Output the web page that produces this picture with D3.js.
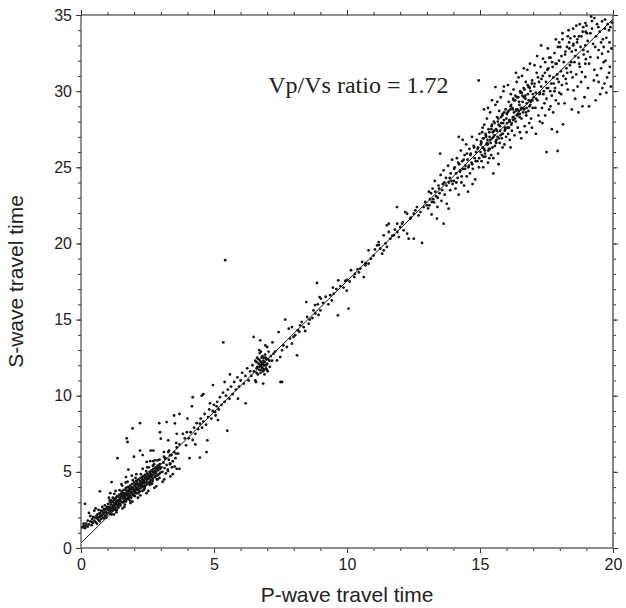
<!DOCTYPE html>
<html>
<head>
<meta charset="utf-8">
<script src="https://cdn.jsdelivr.net/npm/d3@7/dist/d3.min.js"></script>
<style>
  body { margin: 0; background: #fff; }
  svg text { font-family: "Liberation Sans", Arial, sans-serif; fill: #222; }
</style>
</head>
<body>
<div id="chart"></div>
<script>
// tick values
var xMajor = [0, 5, 10, 15, 20];
var yMajor = [0, 5, 10, 15, 20, 25, 30, 35];
var xMinor = d3.range(0, 21, 1);
var yMinor = d3.range(0, 36, 1);

// fitted line: S = intercept + ratio * P
var vpvs = 1.72;
var intercept = 0.33;
var ratioLabel = "Vp/Vs ratio = 1.72";

// [P-wave travel time, S-wave travel time]
var travelTimes = [
  // near-source, p < 1
  [0.05,1.35],[0.1,1.45],[0.15,1.3],[0.2,1.6],[0.25,1.4],[0.3,1.55],[0.35,1.75],[0.4,1.5],[0.42,1.9],[0.45,1.65],
  [0.5,1.8],[0.52,2.0],[0.55,1.7],[0.6,1.95],[0.62,2.2],[0.65,1.85],[0.7,2.05],[0.72,2.3],[0.75,1.9],[0.78,2.15],
  [0.8,2.4],[0.82,2.0],[0.85,2.25],[0.88,2.5],[0.9,2.1],[0.92,2.35],[0.95,2.6],[0.97,2.2],[0.3,2.3],[0.5,2.45],
  [0.6,1.6],[0.7,1.75],[0.85,1.95],[0.95,2.0],[0.15,2.9],[0.55,2.6],[0.35,2.1],[0.8,2.7],[0.25,1.8],[0.45,2.05],
  [0.58,2.1],[0.64,2.0],[0.68,2.25],[0.74,2.1],[0.76,2.45],[0.84,2.3],[0.86,2.55],[0.94,2.35],[0.98,2.7],[0.66,2.5],
  [0.9,2.8],[0.4,1.7],[0.2,1.45],[0.1,1.6],
  // dense band 1 - 3.7
  [1.0,2.5],[1.02,2.9],[1.04,2.3],[1.06,2.7],[1.08,3.1],[1.1,2.55],[1.12,2.85],[1.14,2.4],[1.16,3.0],[1.18,2.7],
  [1.2,3.3],[1.22,2.6],[1.24,2.95],[1.26,2.75],[1.28,3.2],[1.3,2.65],[1.32,3.05],[1.34,2.85],[1.36,3.4],[1.38,2.8],
  [1.4,3.15],[1.42,2.95],[1.44,3.5],[1.46,2.9],[1.48,3.25],[1.5,3.05],[1.05,3.3],[1.15,2.2],[1.25,3.55],[1.35,2.5],
  [1.45,3.8],[1.12,3.15],
  [1.03,2.65],[1.07,2.45],[1.11,3.0],[1.13,2.65],[1.17,2.55],[1.19,3.05],[1.21,2.8],[1.23,3.15],[1.27,2.9],[1.29,2.5],
  [1.31,3.3],[1.33,2.95],[1.37,3.1],[1.39,2.7],[1.41,3.35],[1.43,3.05],[1.47,3.15],[1.49,2.8],
  [1.52,3.4],[1.54,3.0],[1.56,3.6],[1.58,3.25],[1.6,3.8],[1.62,3.1],[1.64,3.5],[1.66,3.35],[1.68,3.9],[1.7,3.2],
  [1.72,3.65],[1.74,3.45],[1.76,4.0],[1.78,3.3],[1.8,3.75],[1.82,3.55],[1.84,4.1],[1.86,3.4],[1.88,3.85],[1.9,3.65],
  [1.92,4.2],[1.94,3.5],[1.96,3.95],[1.98,3.75],[1.55,4.1],[1.65,2.85],[1.75,4.35],[1.85,3.1],[1.95,4.45],[1.6,3.45],
  [1.7,3.95],[1.8,3.35],[1.9,4.0],[1.53,3.7],[1.83,3.85],
  [1.51,3.55],[1.57,3.4],[1.59,3.0],[1.61,3.6],[1.63,3.3],[1.67,3.55],[1.69,3.15],[1.71,3.8],[1.73,3.5],[1.77,3.6],
  [1.79,3.2],[1.81,3.95],[1.87,3.7],[1.89,3.3],[1.91,3.9],[1.93,3.6],[1.97,3.85],[1.99,3.45],
  [2.0,4.3],[2.02,3.7],[2.04,4.05],[2.06,3.85],[2.08,4.4],[2.1,3.8],[2.12,4.15],[2.14,3.95],[2.16,4.5],[2.18,3.85],
  [2.2,4.25],[2.22,4.05],[2.24,4.6],[2.26,3.95],[2.28,4.35],[2.3,4.15],[2.32,4.7],[2.34,4.05],[2.36,4.45],[2.38,4.25],
  [2.4,4.8],[2.42,4.1],[2.44,4.55],[2.46,4.35],[2.48,4.9],[2.05,4.6],[2.15,3.6],[2.25,4.85],[2.35,3.8],[2.45,5.05],
  [2.1,4.4],[2.2,3.7],[2.3,4.5],[2.4,4.0],[2.03,4.2],[2.27,4.25],[2.43,4.7],
  [2.01,4.1],[2.07,3.95],[2.09,3.6],[2.11,4.25],[2.13,3.9],[2.17,4.1],[2.19,3.75],[2.21,4.4],[2.23,4.15],[2.29,4.05],
  [2.31,4.6],[2.33,4.3],[2.37,4.35],[2.39,3.95],[2.41,4.6],[2.47,4.5],[2.49,4.2],
  [2.5,4.5],[2.52,4.85],[2.55,4.3],[2.58,5.0],[2.6,4.7],[2.62,4.45],[2.65,5.1],[2.68,4.8],[2.7,4.55],[2.72,5.2],
  [2.75,4.9],[2.78,4.65],[2.8,5.3],[2.83,5.0],[2.86,4.75],[2.88,5.4],[2.9,5.1],[2.93,4.85],[2.96,5.5],[2.98,5.2],
  [2.55,5.3],[2.65,4.2],[2.75,5.5],[2.85,4.5],[2.95,5.8],[2.6,5.0],[2.8,4.9],[2.7,5.4],
  [2.51,4.75],[2.53,4.55],[2.57,4.6],[2.59,4.3],[2.61,4.9],[2.63,4.65],[2.67,4.7],[2.69,4.4],[2.71,5.0],[2.77,5.05],
  [2.79,4.75],[2.81,5.2],[2.87,5.2],[2.89,4.8],[2.91,5.35],[2.97,5.3],[2.99,4.95],
  [3.02,5.3],[3.06,5.0],[3.1,5.6],[3.14,5.25],[3.18,5.9],[3.22,5.45],[3.26,5.15],[3.3,5.8],[3.35,5.5],[3.4,6.1],
  [3.45,5.7],[3.5,6.3],[3.55,5.9],[3.6,6.6],[3.65,6.2],[3.7,6.8],[3.12,6.0],[3.28,6.3],[3.42,5.3],[3.58,6.9],
  // lower and upper edges of the band
  [1.1,2.25],[1.24,2.2],[1.41,2.65],[1.56,2.6],[1.69,3.05],[1.86,2.95],[2.02,3.4],[2.14,3.3],[2.31,3.75],[2.46,3.6],
  [2.58,4.15],[2.76,3.95],[2.88,4.5],[3.07,4.35],[3.19,4.9],[3.36,4.7],[3.52,5.35],
  [1.18,2.45],[1.33,2.35],[1.47,2.8],[1.63,2.7],[1.77,3.2],[1.93,3.05],[2.05,3.6],[2.23,3.45],[2.39,3.9],[2.53,3.75],
  [2.67,4.25],[2.83,4.05],[2.95,4.6],[3.13,4.5],[3.27,5.05],[3.45,4.85],
  [1.1,3.6],[1.3,3.75],[1.52,4.2],[1.68,4.3],[1.91,4.75],[2.08,4.85],[2.32,5.2],[2.49,5.3],[2.71,5.7],[2.88,5.75],
  [3.12,6.3],[3.31,6.4],
  // scatter above the band
  [2.22,8.2],[1.94,7.85],[1.72,7.2],[1.75,6.96],[1.37,5.9],[1.15,4.33],[2.94,8.2],[3.22,8.27],[3.5,8.7],[3.7,8.8],
  [3.53,8.18],[4.0,8.5],[4.17,9.3],[4.54,10.0],[4.85,9.5],[4.96,10.7],[5.4,10.9],[7.5,10.9],[6.19,9.5],[5.5,7.7],
  [4.47,5.94],[4.75,7.07],[4.72,6.3],[4.08,5.9],[3.7,5.2],[2.97,7.6],[3.0,7.18],[3.28,7.07],[3.6,7.5],[3.83,7.5],
  [3.98,7.6],[3.9,7.2],[2.62,6.4],[2.72,6.4],[2.22,6.4],[2.32,6.1],[1.99,6.0],[1.78,5.15],[1.69,4.66],[0.71,3.72],
  [2.47,5.65],[2.6,5.7],[2.78,5.76],[2.91,5.21],[3.16,5.87],[3.35,6.09],[3.57,6.2],[3.6,5.2],[3.35,5.56],[3.95,6.74],
  [4.47,8.17],[5.04,8.93],[5.1,9.3],
  // 4 - 6.5
  [4.05,7.2],[4.12,7.6],[4.2,7.1],[4.25,7.9],[4.3,7.5],[4.35,8.2],[4.4,7.8],[4.5,8.5],[4.55,7.9],[4.6,8.3],
  [4.65,8.8],[4.7,8.1],[4.78,8.6],[4.82,9.1],[4.9,8.5],[4.95,9.0],[5.0,9.4],[5.06,8.7],[5.12,9.6],[5.18,9.1],
  [5.22,9.9],[5.28,9.4],[5.34,10.2],[5.4,9.6],[5.45,10.0],[5.52,10.4],[5.58,9.8],[5.64,10.6],[5.7,10.1],[5.76,10.9],
  [5.82,10.4],[5.88,11.2],[5.94,10.6],[6.0,11.0],[6.06,11.5],[6.12,10.8],[6.18,11.3],[6.25,11.8],[6.3,11.0],[6.36,11.6],
  [5.35,13.5],[5.42,18.9],[4.2,9.9],[4.6,10.1],[4.3,6.8],[5.15,8.4],[5.6,11.4],[5.9,9.8],
  // cluster near 7
  [6.4,11.3],[6.45,12.0],[6.49,13.86],[6.5,11.6],[6.55,12.3],[6.58,10.9],[6.6,11.8],[6.62,12.5],[6.65,11.4],[6.68,12.1],
  [6.7,11.7],[6.72,12.8],[6.74,13.64],[6.75,11.5],[6.78,12.2],[6.8,11.9],[6.82,12.6],[6.84,11.6],[6.86,12.3],[6.88,12.0],
  [6.9,11.4],[6.92,12.7],[6.93,13.3],[6.95,11.8],[6.97,12.4],[7.0,12.1],[7.02,11.6],[7.05,12.9],[7.08,12.3],[7.1,11.9],
  [7.14,12.6],[7.18,12.3],[7.24,12.76],[7.37,12.32],[7.49,12.54],[7.56,12.98],[7.56,10.9],[7.61,13.3],[7.74,13.2],[7.43,14.18],
  [7.68,15.0],[7.81,14.4],[7.93,14.51],[7.99,13.86],[8.05,13.97],[7.86,13.75],[7.93,13.42],[8.12,12.65],[6.55,11.0],[6.7,13.0],
  [6.85,10.8],[7.0,13.2],[6.6,12.2],[6.9,12.2],[6.75,12.0],[7.2,13.5],[7.3,12.9],
  [6.63,11.9],[6.67,12.4],[6.71,11.9],[6.73,12.3],[6.77,11.7],[6.79,12.5],[6.81,12.1],[6.83,11.8],[6.87,12.5],[6.89,11.7],
  [6.91,12.0],[6.94,12.5],[6.96,12.0],[6.99,11.7],[7.03,12.4],[6.6,11.5],[6.76,12.9],
  // 8 - 13
  [8.24,14.62],[8.3,14.84],[8.37,14.5],[8.21,14.2],[8.43,14.25],[8.56,14.73],[8.5,15.17],[8.74,15.6],[8.7,15.1],[8.81,15.4],
  [8.93,15.3],[9.0,15.6],[8.47,16.15],[8.8,15.95],[8.87,17.4],[8.97,16.48],[9.02,16.37],[9.3,16.0],[9.43,16.26],[9.37,16.6],
  [9.47,17.1],[9.66,15.28],[9.67,17.58],[9.87,17.1],[9.93,17.54],[10.06,15.72],[9.99,16.9],[10.15,18.24],[10.27,17.8],[10.4,18.3],
  [10.5,18.34],[10.63,17.79],[10.57,18.78],[10.69,18.56],[10.81,18.67],[10.81,19.55],[11.13,19.87],[11.19,20.09],[11.25,19.65],[11.32,19.33],
  [11.38,19.55],[11.5,19.77],[11.38,20.53],[11.57,20.75],[11.63,20.31],[11.5,21.19],[11.57,21.3],[11.76,20.53],[11.89,20.75],[11.95,20.42],
  [12.0,21.08],[12.07,21.3],[12.13,20.86],[12.26,20.64],[12.32,20.31],[12.51,20.31],[12.82,20.03],[11.89,21.3],[11.88,22.39],[12.19,22.06],
  [12.26,21.95],[12.38,21.63],[12.51,21.95],[12.57,22.17],[12.63,22.39],[12.69,21.84],[12.76,22.06],[12.88,22.39],[12.94,22.72],[13.0,22.5],
  [13.19,22.72],[13.38,21.63],[13.63,21.3],[13.82,22.28],
  [8.15,14.3],[8.6,15.0],[8.9,16.0],[9.1,16.1],[9.2,16.5],[9.5,16.7],[9.6,17.0],[9.75,17.2],[10.0,17.6],[10.1,17.5],
  [10.3,18.0],[10.45,18.1],[10.7,18.7],[10.9,19.0],[11.0,19.2],[11.05,19.6],[11.2,19.9],[11.45,20.0],[11.7,20.5],[11.8,20.9],
  [12.1,21.4],[12.4,21.7],
  // 13 - 15
  [13.05,22.3],[13.08,23.4],[13.12,22.9],[13.18,21.9],[13.22,23.6],[13.27,22.7],[13.3,24.1],[13.35,23.1],[13.4,22.4],[13.44,23.8],
  [13.48,23.3],[13.52,24.5],[13.55,22.8],[13.6,23.9],[13.63,24.8],[13.67,23.2],[13.72,24.3],[13.75,22.6],[13.8,25.1],[13.83,24.0],
  [13.88,23.5],[13.9,24.6],[13.95,25.5],[13.97,23.9],[13.5,25.9],
  [13.1,22.5],[13.16,23.3],[13.24,22.9],[13.32,23.4],[13.41,23.0],[13.46,23.6],[13.58,23.5],[13.66,24.0],[13.74,23.8],[13.86,24.3],
  [13.93,24.1],
  [14.02,24.1],[14.05,25.0],[14.08,23.6],[14.1,24.6],[14.13,25.6],[14.16,24.3],[14.2,23.2],[14.22,25.2],[14.25,24.7],[14.28,26.1],
  [14.3,24.0],[14.33,25.4],[14.36,24.9],[14.4,23.8],[14.42,25.8],[14.45,25.1],[14.48,26.5],[14.5,24.4],[14.53,25.5],[14.56,25.0],
  [14.6,26.2],[14.62,24.6],[14.65,25.9],[14.68,25.3],[14.7,27.0],[14.73,24.9],[14.76,26.4],[14.8,25.6],[14.82,24.2],[14.85,26.0],
  [14.88,26.8],[14.9,25.4],[14.93,26.3],[14.96,25.0],[14.98,27.2],[14.2,27.0],[14.55,23.4],[14.35,26.8],[14.72,23.9],[14.95,30.7],
  [14.03,24.9],[14.11,24.0],[14.18,25.3],[14.26,24.8],[14.31,24.4],[14.39,25.5],[14.44,24.9],[14.51,25.9],[14.58,25.1],[14.64,25.8],
  [14.71,25.2],[14.78,26.3],[14.84,25.4],[14.91,26.2],[14.97,25.6],
  // 15 - 17
  [15.02,26.0],[15.04,26.7],[15.06,25.4],[15.08,27.3],[15.1,26.3],[15.12,25.0],[15.14,26.9],[15.16,27.8],[15.18,26.1],[15.2,25.7],
  [15.22,27.1],[15.24,26.5],[15.26,28.2],[15.28,26.8],[15.3,25.3],[15.32,27.5],[15.34,26.2],[15.36,27.0],[15.38,28.6],[15.4,26.6],
  [15.42,25.8],[15.44,27.7],[15.46,26.9],[15.48,27.3],[15.5,25.6],[15.52,28.0],[15.54,27.1],[15.56,26.4],[15.58,29.1],[15.6,27.5],
  [15.62,26.8],[15.64,28.3],[15.66,27.0],[15.68,25.9],[15.7,27.8],[15.72,28.7],[15.74,26.6],[15.76,27.4],[15.78,29.6],[15.8,27.9],
  [15.82,26.9],[15.84,28.4],[15.86,27.2],[15.88,30.0],[15.9,28.1],[15.92,26.5],[15.94,27.6],[15.96,28.8],[15.98,27.0],[15.1,27.6],
  [15.3,28.9],[15.5,24.6],[15.7,25.2],[15.9,30.3],[15.58,30.27],[15.45,29.4],[15.15,28.8],[15.65,29.3],[15.35,25.6],[15.85,26.3],
  [15.03,26.5],[15.07,25.8],[15.11,26.9],[15.15,26.2],[15.19,25.9],[15.23,27.0],[15.27,26.6],[15.31,26.1],[15.35,27.3],[15.39,26.8],
  [15.43,27.5],[15.47,26.3],[15.51,27.0],[15.55,27.9],[15.59,26.7],[15.63,27.4],[15.67,28.0],[15.71,26.9],[15.75,27.7],[15.79,28.3],
  [15.83,27.2],[15.87,27.9],[15.91,28.6],[15.95,27.5],[15.99,28.2],
  [15.05,26.6],[15.13,25.7],[15.21,27.2],[15.29,26.5],[15.37,26.2],[15.45,27.8],[15.53,27.4],[15.61,26.6],[15.69,28.2],[15.77,27.1],
  [15.85,28.5],[15.93,27.4],
  [16.02,27.9],[16.04,28.6],[16.06,27.2],[16.08,29.3],[16.1,28.1],[16.12,26.8],[16.14,28.8],[16.16,29.8],[16.18,27.8],[16.2,27.4],
  [16.22,28.9],[16.24,28.3],[16.26,30.1],[16.28,28.6],[16.3,27.1],[16.32,29.4],[16.34,28.0],[16.36,28.8],[16.38,30.6],[16.4,28.4],
  [16.42,27.6],[16.44,29.6],[16.46,28.7],[16.48,29.1],[16.5,27.3],[16.52,29.9],[16.54,28.9],[16.56,28.2],[16.58,31.0],[16.6,29.3],
  [16.62,28.6],[16.64,30.2],[16.66,28.8],[16.68,27.7],[16.7,29.7],[16.72,30.6],[16.74,28.4],[16.76,29.2],[16.78,31.4],[16.8,29.8],
  [16.82,28.7],[16.84,30.3],[16.86,29.0],[16.88,31.8],[16.9,30.0],[16.92,28.2],[16.94,29.4],[16.96,30.7],[16.98,28.9],[16.15,26.3],
  [16.35,31.2],[16.55,26.9],[16.75,27.3],[16.95,27.6],[16.45,30.9],[16.25,29.5],[16.65,31.5],[16.85,27.9],[16.05,30.4],[16.5,28.5],
  [16.03,27.6],[16.07,28.7],[16.11,28.0],[16.15,29.0],[16.19,27.9],[16.23,28.8],[16.27,29.4],[16.31,28.2],[16.35,28.7],[16.39,29.6],
  [16.43,28.5],[16.47,29.3],[16.51,30.0],[16.55,28.8],[16.59,29.7],[16.63,28.9],[16.67,30.1],[16.71,29.5],[16.75,28.9],[16.79,30.4],
  [16.83,29.4],[16.87,30.2],[16.91,29.3],[16.95,30.5],[16.99,29.8],
  [16.01,28.5],[16.09,27.6],[16.17,29.1],[16.25,28.1],[16.33,29.7],[16.41,28.8],[16.49,28.3],[16.57,29.9],[16.65,29.6],[16.73,28.6],
  [16.81,30.3],[16.89,29.1],[16.97,29.4],
  // 17 - 20
  [17.02,29.6],[17.05,30.5],[17.08,28.9],[17.1,29.9],[17.13,31.2],[17.16,29.4],[17.2,28.4],[17.22,30.6],[17.25,29.9],[17.28,31.6],
  [17.3,30.3],[17.33,28.9],[17.36,31.0],[17.4,30.0],[17.42,29.2],[17.45,31.9],[17.48,30.6],[17.5,29.5],[17.53,31.4],[17.56,30.2],
  [17.6,28.8],[17.62,31.0],[17.65,32.2],[17.68,30.5],[17.7,29.7],[17.73,31.6],[17.76,30.9],[17.8,32.5],[17.82,30.2],[17.85,29.4],
  [17.88,31.8],[17.9,31.1],[17.93,32.9],[17.96,30.6],[17.98,29.9],[17.37,32.13],[17.6,32.2],[17.98,33.2],[17.9,27.32],[17.92,26.07],
  [17.95,29.18],[17.5,26.0],[17.15,32.3],[17.35,27.9],[17.7,27.5],[17.05,31.7],[17.55,32.8],[17.85,33.4],[17.25,28.0],[17.45,28.4],
  [17.75,28.6],[17.1,27.2],[17.65,29.0],[17.3,33.0],[17.8,30.0],
  [17.04,30.3],[17.11,29.5],[17.18,30.9],[17.24,29.8],[17.31,30.8],[17.38,29.8],[17.44,31.2],[17.51,30.2],[17.57,31.5],[17.64,30.0],
  [17.71,31.9],[17.77,30.5],[17.84,31.8],[17.91,30.8],[17.97,32.0],
  [18.02,32.9],[18.04,31.3],[18.08,30.4],[18.1,33.4],[18.12,27.82],[18.15,31.9],[18.2,32.4],[18.22,30.8],[18.25,31.5],[18.27,32.9],
  [18.3,30.1],[18.35,33.2],[18.38,31.7],[18.4,33.47],[18.42,31.25],[18.45,32.6],[18.48,30.9],[18.5,33.0],[18.52,30.05],[18.55,31.9],
  [18.6,32.7],[18.62,31.1],[18.65,33.2],[18.67,30.3],[18.7,32.2],[18.72,33.6],[18.75,31.6],[18.78,32.9],[18.8,30.6],[18.83,31.25],
  [18.86,33.9],[18.9,32.4],[18.93,29.6],[18.96,31.8],[18.96,30.93],[18.96,33.0],[18.96,34.47],[18.98,32.1],[18.05,29.8],[18.18,29.2],
  [18.33,34.0],[18.58,29.5],[18.88,34.2],[18.45,28.8],[18.7,28.6],[18.1,33.8],[18.62,34.3],[18.85,29.0],[18.25,30.5],[18.55,33.6],
  [18.06,32.3],[18.13,31.0],[18.21,32.6],[18.28,31.2],[18.36,32.8],[18.43,31.9],[18.51,33.1],[18.58,32.3],[18.66,33.4],[18.73,31.8],
  [18.81,33.6],[18.89,32.7],[18.97,33.9],
  [18.5,34.1],[18.75,34.4],[19.0,34.3],[19.3,34.8],[19.45,34.2],[19.7,34.7],[19.85,34.0],[18.3,33.6],[19.05,33.3],[19.55,33.2],
  [19.02,33.8],[19.05,32.6],[19.1,31.8],[19.15,33.8],[19.15,32.24],[19.21,34.6],[19.21,34.1],[19.25,33.1],[19.3,31.4],[19.33,32.9],
  [19.36,33.6],[19.4,34.4],[19.4,31.04],[19.43,32.2],[19.46,32.7],[19.46,30.6],[19.5,33.9],[19.55,31.5],[19.59,34.58],[19.59,32.46],
  [19.62,33.4],[19.65,31.9],[19.65,32.9],[19.68,30.5],[19.7,34.1],[19.72,32.0],[19.75,33.5],[19.78,30.9],[19.8,34.4],[19.82,32.6],
  [19.85,31.2],[19.87,33.2],[19.9,34.2],[19.92,30.3],[19.94,32.8],[19.96,34.5],[19.06,30.2],[19.28,30.7],[19.52,29.8],[19.18,34.9],
  [19.35,29.4],[19.75,29.9],[19.6,30.2],[19.88,31.6],[19.1,29.0]
];

var margin = {top: 15, right: 13, bottom: 60, left: 81},
    width = 626 - margin.left - margin.right,
    height = 608 - margin.top - margin.bottom;

var svg = d3.select("#chart")
    .append("svg")
    .attr("width", width + margin.left + margin.right)
    .attr("height", height + margin.top + margin.bottom)
    .append("g")
    .attr("transform", "translate(" + margin.left + "," + margin.top + ")");

var x = d3.scaleLinear().domain([0, 20]).range([0, width]);
var y = d3.scaleLinear().domain([0, 35]).range([height, 0]);

// minor ticks on all four sides
function minor(axis, vals) {
  return axis.tickValues(vals).tickSize(3).tickFormat("");
}
svg.append("g").attr("transform", "translate(0," + height + ")").call(minor(d3.axisBottom(x), xMinor));
svg.append("g").call(minor(d3.axisTop(x), xMinor));
svg.append("g").call(minor(d3.axisLeft(y), yMinor));
svg.append("g").attr("transform", "translate(" + width + ",0)").call(minor(d3.axisRight(y), yMinor));

// major ticks
var xAxis = svg.append("g").attr("class", "xaxis")
    .attr("transform", "translate(0," + height + ")")
    .call(d3.axisBottom(x).tickValues(xMajor).tickSize(5).tickPadding(6).tickFormat(d3.format("d")));
var yAxis = svg.append("g").attr("class", "yaxis")
    .call(d3.axisLeft(y).tickValues(yMajor).tickSize(5).tickPadding(4).tickFormat(d3.format("d")));
svg.append("g").call(d3.axisTop(x).tickValues(xMajor).tickSize(5).tickFormat(""));
svg.append("g").attr("transform", "translate(" + width + ",0)")
    .call(d3.axisRight(y).tickValues(yMajor).tickSize(5).tickFormat(""));

svg.selectAll(".domain").remove();
svg.selectAll(".tick line").attr("stroke", "#333");
svg.selectAll(".tick text").style("font-size", "16px").attr("fill", "#222");

// frame
svg.append("line").attr("x1", 0).attr("x2", width).attr("y1", 0).attr("y2", 0).attr("stroke", "#222");
svg.append("line").attr("x1", 0).attr("x2", 0).attr("y1", 0).attr("y2", height).attr("stroke", "#222");
svg.append("line").attr("x1", 0).attr("x2", width).attr("y1", height).attr("y2", height)
    .attr("stroke", "#666").attr("stroke-width", 1.6);
svg.append("line").attr("x1", width).attr("x2", width).attr("y1", 0).attr("y2", height)
    .attr("stroke", "#666").attr("stroke-width", 1.6);

// points
svg.append("g").selectAll("circle")
    .data(travelTimes)
    .enter()
    .append("circle")
    .attr("cx", function(d) { return x(d[0]); })
    .attr("cy", function(d) { return y(d[1]); })
    .attr("r", 1.4)
    .attr("fill", "#151515");

// fitted line
svg.append("line")
    .attr("x1", x(0)).attr("y1", y(intercept))
    .attr("x2", x(20)).attr("y2", y(intercept + vpvs * 20))
    .attr("stroke", "#111").attr("stroke-width", 1);

// annotation
svg.append("text")
    .attr("x", x(7.04))
    .attr("y", y(29.9))
    .style("font-family", "'Liberation Serif', 'Times New Roman', serif")
    .style("font-size", "24px")
    .text(ratioLabel);

// axis titles
svg.append("text")
    .attr("x", width / 2)
    .attr("y", height + 54)
    .attr("text-anchor", "middle")
    .style("font-size", "21px")
    .text("P-wave travel time");

svg.append("text")
    .attr("transform", "rotate(-90)")
    .attr("x", -height / 2)
    .attr("y", -58)
    .attr("text-anchor", "middle")
    .style("font-size", "21px")
    .text("S-wave travel time");
</script>
</body>
</html>
